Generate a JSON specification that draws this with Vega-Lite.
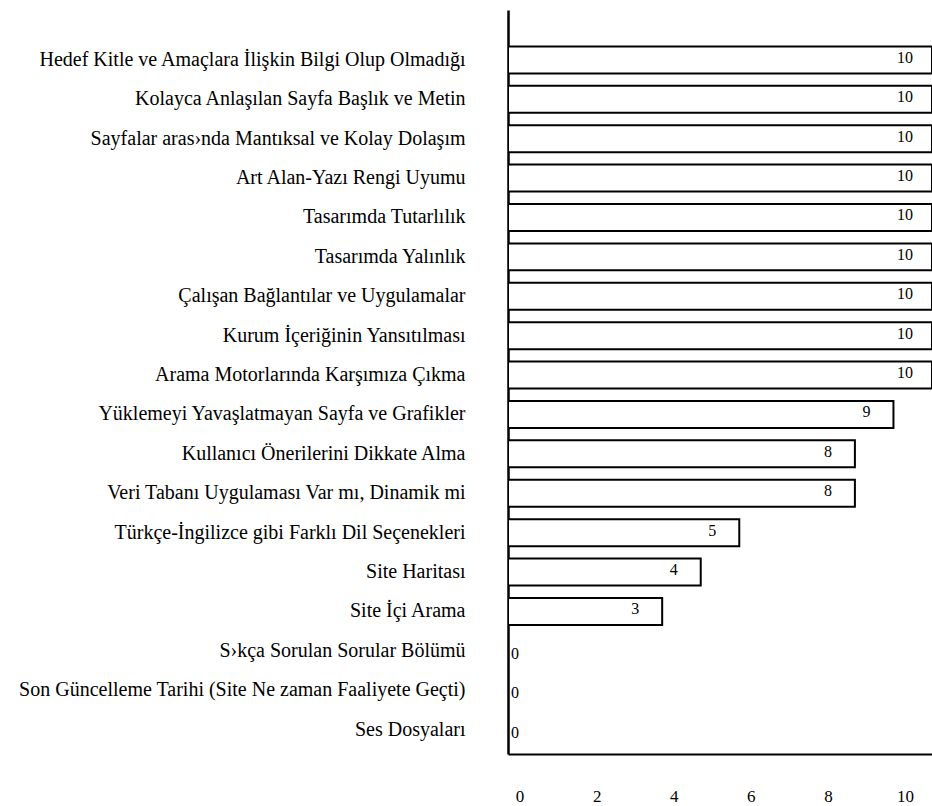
{
  "$schema": "https://vega.github.io/schema/vega-lite/v6.json",
  "autosize": "none",
  "width": 424,
  "height": 744,
  "padding": {"left": 508, "top": 10, "right": 0, "bottom": 52},
  "background": "white",
  "config": {"view": {"stroke": null}, "font": "Liberation Serif"},
  "data": {"values": [
    {"kriter": "Hedef Kitle ve Amaçlara İlişkin Bilgi Olup Olmadığı", "deger": 10},
    {"kriter": "Kolayca Anlaşılan Sayfa Başlık ve Metin", "deger": 10},
    {"kriter": "Sayfalar aras›nda Mantıksal ve Kolay Dolaşım", "deger": 10},
    {"kriter": "Art Alan-Yazı Rengi Uyumu", "deger": 10},
    {"kriter": "Tasarımda Tutarlılık", "deger": 10},
    {"kriter": "Tasarımda Yalınlık", "deger": 10},
    {"kriter": "Çalışan Bağlantılar ve Uygulamalar", "deger": 10},
    {"kriter": "Kurum İçeriğinin Yansıtılması", "deger": 10},
    {"kriter": "Arama Motorlarında Karşımıza Çıkma", "deger": 10},
    {"kriter": "Yüklemeyi Yavaşlatmayan Sayfa ve Grafikler", "deger": 9},
    {"kriter": "Kullanıcı Önerilerini Dikkate Alma", "deger": 8},
    {"kriter": "Veri Tabanı Uygulaması Var mı, Dinamik mi", "deger": 8},
    {"kriter": "Türkçe-İngilizce gibi Farklı Dil Seçenekleri", "deger": 5},
    {"kriter": "Site Haritası", "deger": 4},
    {"kriter": "Site İçi Arama", "deger": 3},
    {"kriter": "S›kça Sorulan Sorular Bölümü", "deger": 0},
    {"kriter": "Son Güncelleme Tarihi (Site Ne zaman Faaliyete Geçti)", "deger": 0},
    {"kriter": "Ses Dosyaları", "deger": 0}
  ]},
  "encoding": {
    "y": {
      "field": "kriter", "type": "nominal", "sort": null,
      "scale": {"paddingInner": 0.315, "paddingOuter": 0.6, "align": 0.77},
      "axis": {
        "title": null, "domain": true, "domainColor": "black", "domainWidth": 2.5,
        "ticks": false, "grid": false, "labelFont": "Liberation Serif", "labelFontSize": 20,
        "labelColor": "black", "labelPadding": 43, "labelLimit": 0
      }
    }
  },
  "layer": [
    {
      "transform": [{"filter": "datum.deger > 0"}],
      "mark": {"type": "bar", "fill": "white", "stroke": "black", "strokeWidth": 2, "clip": true},
      "encoding": {
        "x": {
          "field": "deger", "type": "quantitative",
          "scale": {"domain": [-1, 10], "nice": false, "zero": false},
          "axis": {
            "title": null, "domain": true, "domainColor": "black", "domainWidth": 2,
            "ticks": false, "grid": false, "values": [0, 2, 4, 6, 8, 10],
            "labelFont": "Liberation Serif", "labelFontSize": 17, "labelColor": "black",
            "labelPadding": 34, "labelOffset": -27, "labelFlush": false
          }
        },
        "x2": {"datum": -1}
      }
    },
    {
      "transform": [{"filter": "datum.deger > 0"}],
      "mark": {"type": "text", "dx": -27, "align": "center", "baseline": "middle", "font": "Liberation Serif", "fontSize": 16, "color": "black", "dy": -2},
      "encoding": {
        "x": {"field": "deger", "type": "quantitative"},
        "text": {"field": "deger", "type": "quantitative"}
      }
    },
    {
      "transform": [{"filter": "datum.deger == 0"}],
      "mark": {"type": "text", "dx": 3, "align": "left", "baseline": "middle", "font": "Liberation Serif", "fontSize": 16, "color": "black", "dy": 3},
      "encoding": {
        "x": {"datum": -1},
        "text": {"field": "deger", "type": "quantitative"}
      }
    }
  ]
}
